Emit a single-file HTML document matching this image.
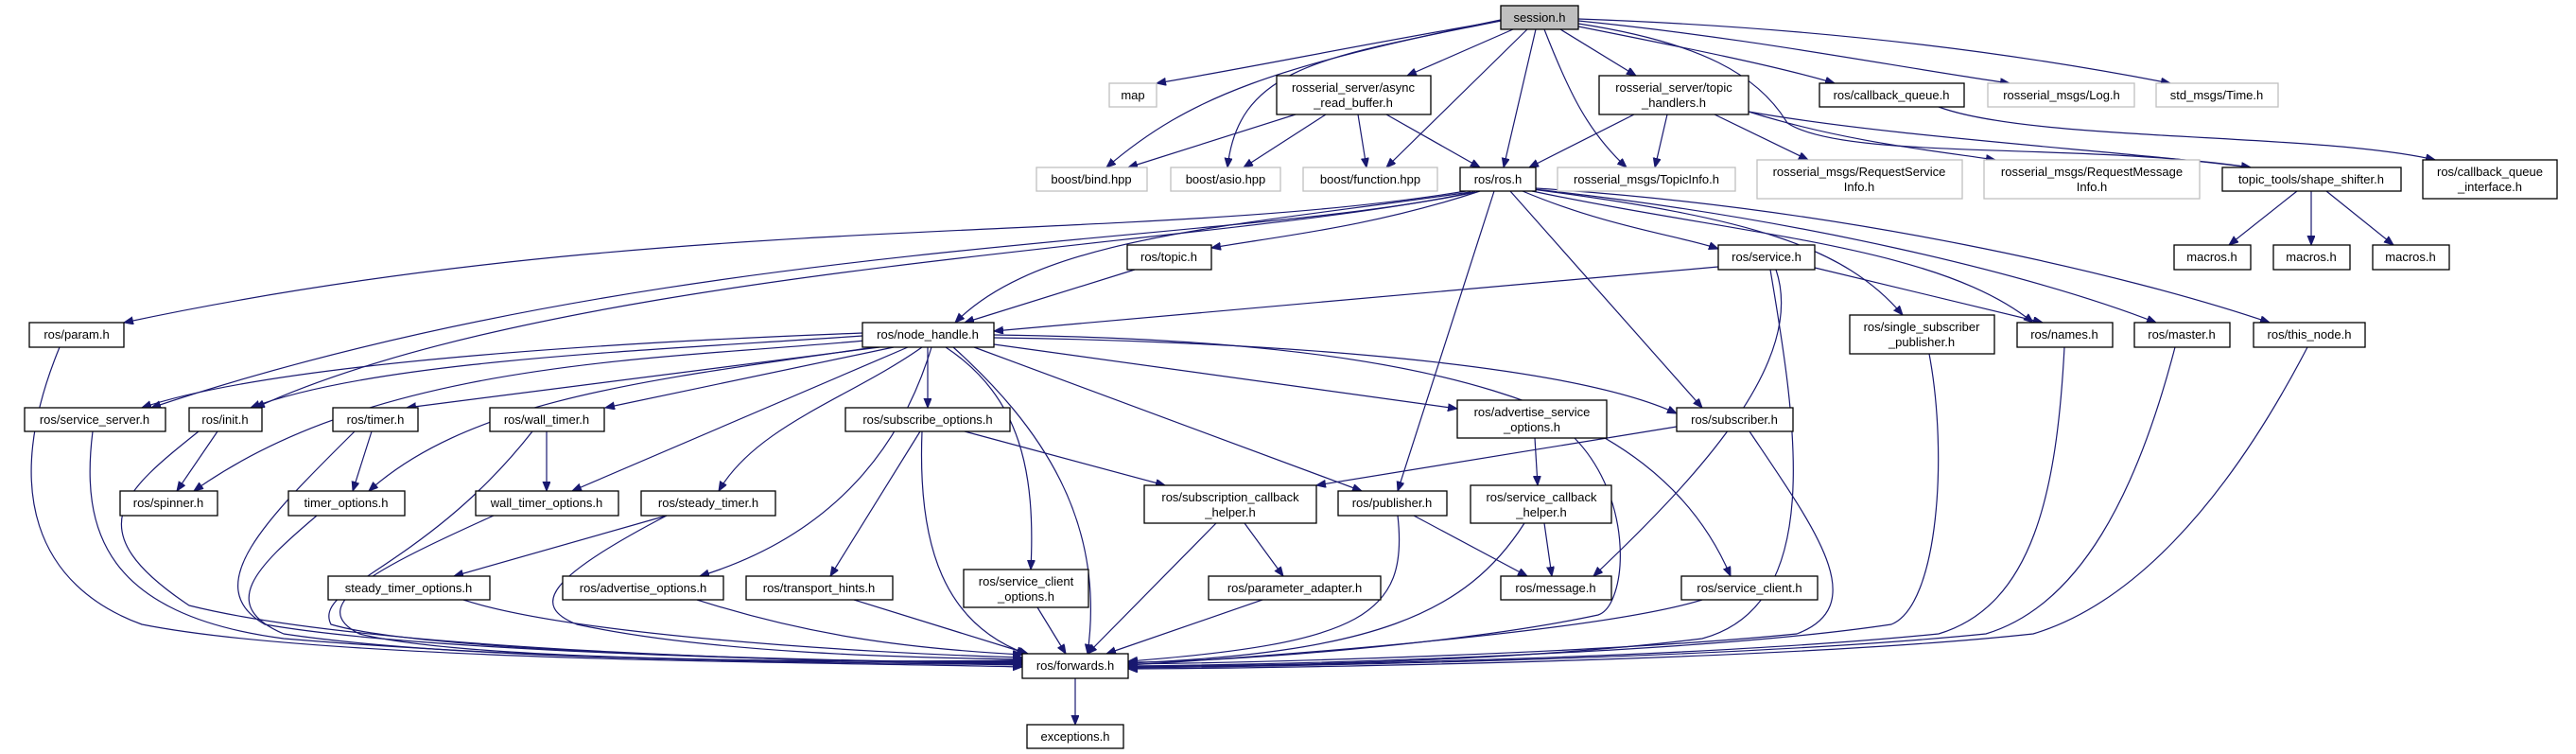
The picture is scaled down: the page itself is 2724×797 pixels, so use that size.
<!DOCTYPE html>
<html><head><meta charset="utf-8"><style>
html,body{margin:0;padding:0;background:#fff;}
svg{display:block;}
text{font-family:"Liberation Sans",sans-serif;font-size:13px;fill:#000;text-anchor:middle;}
.n{fill:#fff;stroke:#000;stroke-width:1.3;}
.g{fill:#fff;stroke:#bfbfbf;stroke-width:1.3;}
.e{fill:none;stroke:#191970;stroke-width:1.2;marker-end:url(#a);}
</style></head><body>
<svg width="2724" height="797" viewBox="0 0 2724 797" xmlns="http://www.w3.org/2000/svg">
<defs><marker id="a" markerUnits="userSpaceOnUse" markerWidth="11" markerHeight="9" refX="10" refY="4" orient="auto"><path d="M0,0 L10,4 L0,8 z" fill="#191970" stroke="#191970"/></marker></defs>
<g>
<path class="e" d="M1587,22 C1450,45 1330,70 1223,88"/>
<path class="e" d="M1587,21 C1350,70 1260,100 1170,177"/>
<path class="e" d="M1587,22 C1400,60 1310,70 1298,177"/>
<path class="e" d="M1600,31 L1488,80"/>
<path class="e" d="M1615,31 L1466,177"/>
<path class="e" d="M1624,31 L1590,177"/>
<path class="e" d="M1633,31 C1660,100 1680,140 1720,177"/>
<path class="e" d="M1650,31 L1730,80"/>
<path class="e" d="M1669,28 C1780,50 1880,70 1940,88"/>
<path class="e" d="M1669,22 C1850,40 2000,70 2125,88"/>
<path class="e" d="M1669,20 C1950,30 2150,60 2295,88"/>
<path class="e" d="M1669,25 C1800,45 1860,80 1890,130 C1950,170 2200,150 2380,177"/>
<path class="e" d="M1370,121 L1193,177"/>
<path class="e" d="M1402,121 L1315,177"/>
<path class="e" d="M1436,121 L1445,177"/>
<path class="e" d="M1466,121 L1565,177"/>
<path class="e" d="M1728,121 L1617,177"/>
<path class="e" d="M1763,121 L1750,177"/>
<path class="e" d="M1813,121 L1912,169"/>
<path class="e" d="M1849,118 C1950,150 2050,160 2110,169"/>
<path class="e" d="M1849,118 C2000,145 2250,160 2380,177"/>
<path class="e" d="M2050,113 C2150,150 2450,140 2575,169"/>
<path class="e" d="M2429,202 L2357,259"/>
<path class="e" d="M2444,202 L2444,259"/>
<path class="e" d="M2460,202 L2531,259"/>
<path class="e" d="M1550,202 C1200,260 700,220 131,341"/>
<path class="e" d="M1560,203 C1300,260 700,250 160,431"/>
<path class="e" d="M1558,203 C1300,260 600,280 270,431"/>
<path class="e" d="M1555,203 C1300,240 1100,250 1010,341"/>
<path class="e" d="M1565,202 C1450,240 1350,250 1281,262"/>
<path class="e" d="M1580,202 L1478,519"/>
<path class="e" d="M1597,202 L1800,431"/>
<path class="e" d="M1610,202 C1700,240 1780,250 1817,263"/>
<path class="e" d="M1620,202 C1850,250 2050,260 2150,341"/>
<path class="e" d="M1620,200 C1850,230 1950,260 2012,333"/>
<path class="e" d="M1622,200 C1900,230 2150,290 2280,341"/>
<path class="e" d="M1624,199 C1950,220 2250,290 2400,341"/>
<path class="e" d="M1200,285 L1020,341"/>
<path class="e" d="M1817,282 L1051,350"/>
<path class="e" d="M1919,283 L2160,341"/>
<path class="e" d="M1878,285 C1910,380 1800,500 1685,609"/>
<path class="e" d="M1872,285 C1900,450 1930,640 1800,675 C1600,700 1350,703 1193,705"/>
<path class="e" d="M912,352 C700,360 300,380 150,431"/>
<path class="e" d="M912,355 C700,370 400,380 265,431"/>
<path class="e" d="M915,360 C700,380 400,380 205,519"/>
<path class="e" d="M930,367 L430,431"/>
<path class="e" d="M925,367 C700,400 500,420 390,519"/>
<path class="e" d="M945,367 L640,431"/>
<path class="e" d="M960,367 L605,519"/>
<path class="e" d="M975,367 C900,420 800,450 760,519"/>
<path class="e" d="M985,367 C960,450 900,560 740,609"/>
<path class="e" d="M981,367 L981,431"/>
<path class="e" d="M1000,367 C1080,420 1095,500 1090,602"/>
<path class="e" d="M1008,367 C1100,450 1170,550 1150,691"/>
<path class="e" d="M1030,367 L1440,519"/>
<path class="e" d="M1051,364 L1541,432"/>
<path class="e" d="M1051,357 C1300,360 1650,380 1773,437"/>
<path class="e" d="M1051,354 C1500,360 1750,420 1830,609"/>
<path class="e" d="M63,367 C0,520 40,620 150,660 C350,700 900,700 1081,705"/>
<path class="e" d="M98,456 C85,560 110,650 300,675 C600,700 900,700 1081,703"/>
<path class="e" d="M230,456 L187,519"/>
<path class="e" d="M210,456 C130,520 80,560 200,640 C400,690 900,700 1081,702"/>
<path class="e" d="M393,456 L373,519"/>
<path class="e" d="M375,456 C280,550 210,620 280,660 C450,690 900,700 1081,701"/>
<path class="e" d="M578,456 L578,519"/>
<path class="e" d="M563,456 C450,600 330,620 350,660 C450,690 900,700 1081,700"/>
<path class="e" d="M335,545 C270,600 230,640 300,670 C500,700 900,700 1081,699"/>
<path class="e" d="M522,545 C400,600 320,640 380,670 C500,700 900,700 1081,698"/>
<path class="e" d="M705,545 L480,609"/>
<path class="e" d="M705,545 C580,610 560,640 610,660 C750,690 950,695 1081,697"/>
<path class="e" d="M490,634 C600,670 900,690 1081,695"/>
<path class="e" d="M737,634 C850,670 950,685 1081,692"/>
<path class="e" d="M903,634 L1087,691"/>
<path class="e" d="M973,456 L878,609"/>
<path class="e" d="M975,456 C970,580 1000,660 1085,691"/>
<path class="e" d="M1020,456 L1232,513"/>
<path class="e" d="M1097,642 L1127,691"/>
<path class="e" d="M1316,553 L1357,609"/>
<path class="e" d="M1286,553 L1150,691"/>
<path class="e" d="M1335,634 L1170,691"/>
<path class="e" d="M1495,545 L1615,609"/>
<path class="e" d="M1478,545 C1490,650 1440,680 1193,699"/>
<path class="e" d="M1623,463 L1626,513"/>
<path class="e" d="M1665,463 C1730,530 1720,640 1690,650 C1550,680 1300,700 1193,700"/>
<path class="e" d="M1633,553 L1641,609"/>
<path class="e" d="M1612,553 C1550,650 1450,690 1193,701"/>
<path class="e" d="M1773,451 L1392,513"/>
<path class="e" d="M1850,456 C1920,560 1980,640 1900,670 C1700,690 1350,700 1193,702"/>
<path class="e" d="M1800,634 C1700,665 1400,690 1193,703"/>
<path class="e" d="M2040,374 C2060,480 2050,640 2000,660 C1800,690 1400,702 1193,704"/>
<path class="e" d="M2183,367 C2175,520 2150,640 2050,670 C1800,695 1400,703 1193,705"/>
<path class="e" d="M2300,367 C2260,520 2200,640 2100,670 C1850,695 1400,704 1193,706"/>
<path class="e" d="M2440,367 C2350,540 2250,640 2150,670 C1900,697 1400,706 1193,707"/>
<path class="e" d="M1137,717 L1137,766"/>
</g>
<g>
<rect x="1587" y="6" width="82" height="25" style="fill:#bfbfbf;stroke:#000;stroke-width:1.3"/><text x="1628" y="23">session.h</text>
<rect class="g" x="1173" y="88" width="50" height="25"/><text x="1198" y="105">map</text>
<rect class="n" x="1350" y="80" width="163" height="41"/><text x="1431" y="97">rosserial_server/async</text><text x="1431" y="113">_read_buffer.h</text>
<rect class="n" x="1691" y="80" width="158" height="41"/><text x="1770" y="97">rosserial_server/topic</text><text x="1770" y="113">_handlers.h</text>
<rect class="n" x="1924" y="88" width="153" height="25"/><text x="2000" y="105">ros/callback_queue.h</text>
<rect class="g" x="2102" y="88" width="155" height="25"/><text x="2180" y="105">rosserial_msgs/Log.h</text>
<rect class="g" x="2280" y="88" width="129" height="25"/><text x="2344" y="105">std_msgs/Time.h</text>
<rect class="g" x="1096" y="177" width="117" height="25"/><text x="1154" y="194">boost/bind.hpp</text>
<rect class="g" x="1238" y="177" width="116" height="25"/><text x="1296" y="194">boost/asio.hpp</text>
<rect class="g" x="1378" y="177" width="142" height="25"/><text x="1449" y="194">boost/function.hpp</text>
<rect class="n" x="1544" y="177" width="80" height="25"/><text x="1584" y="194">ros/ros.h</text>
<rect class="g" x="1647" y="177" width="188" height="25"/><text x="1741" y="194">rosserial_msgs/TopicInfo.h</text>
<rect class="g" x="1858" y="169" width="217" height="41"/><text x="1966" y="186">rosserial_msgs/RequestService</text><text x="1966" y="202">Info.h</text>
<rect class="g" x="2098" y="169" width="228" height="41"/><text x="2212" y="186">rosserial_msgs/RequestMessage</text><text x="2212" y="202">Info.h</text>
<rect class="n" x="2350" y="177" width="189" height="25"/><text x="2444" y="194">topic_tools/shape_shifter.h</text>
<rect class="n" x="2562" y="169" width="142" height="41"/><text x="2633" y="186">ros/callback_queue</text><text x="2633" y="202">_interface.h</text>
<rect class="n" x="2299" y="259" width="81" height="26"/><text x="2339" y="276">macros.h</text>
<rect class="n" x="2404" y="259" width="81" height="26"/><text x="2444" y="276">macros.h</text>
<rect class="n" x="2509" y="259" width="81" height="26"/><text x="2549" y="276">macros.h</text>
<rect class="n" x="1192" y="259" width="89" height="26"/><text x="1236" y="276">ros/topic.h</text>
<rect class="n" x="1817" y="259" width="102" height="26"/><text x="1868" y="276">ros/service.h</text>
<rect class="n" x="31" y="341" width="100" height="26"/><text x="81" y="358">ros/param.h</text>
<rect class="n" x="912" y="341" width="139" height="26"/><text x="981" y="358">ros/node_handle.h</text>
<rect class="n" x="1956" y="333" width="153" height="41"/><text x="2032" y="350">ros/single_subscriber</text><text x="2032" y="366">_publisher.h</text>
<rect class="n" x="2133" y="341" width="101" height="26"/><text x="2183" y="358">ros/names.h</text>
<rect class="n" x="2257" y="341" width="101" height="26"/><text x="2307" y="358">ros/master.h</text>
<rect class="n" x="2383" y="341" width="118" height="26"/><text x="2442" y="358">ros/this_node.h</text>
<rect class="n" x="26" y="431" width="149" height="25"/><text x="100" y="448">ros/service_server.h</text>
<rect class="n" x="200" y="431" width="77" height="25"/><text x="238" y="448">ros/init.h</text>
<rect class="n" x="352" y="431" width="90" height="25"/><text x="397" y="448">ros/timer.h</text>
<rect class="n" x="518" y="431" width="121" height="25"/><text x="578" y="448">ros/wall_timer.h</text>
<rect class="n" x="894" y="431" width="174" height="25"/><text x="981" y="448">ros/subscribe_options.h</text>
<rect class="n" x="1541" y="423" width="158" height="40"/><text x="1620" y="440">ros/advertise_service</text><text x="1620" y="456">_options.h</text>
<rect class="n" x="1773" y="431" width="123" height="25"/><text x="1834" y="448">ros/subscriber.h</text>
<rect class="n" x="127" y="519" width="103" height="26"/><text x="178" y="536">ros/spinner.h</text>
<rect class="n" x="305" y="519" width="123" height="26"/><text x="366" y="536">timer_options.h</text>
<rect class="n" x="503" y="519" width="151" height="26"/><text x="578" y="536">wall_timer_options.h</text>
<rect class="n" x="678" y="519" width="142" height="26"/><text x="749" y="536">ros/steady_timer.h</text>
<rect class="n" x="1210" y="513" width="182" height="40"/><text x="1301" y="530">ros/subscription_callback</text><text x="1301" y="546">_helper.h</text>
<rect class="n" x="1415" y="519" width="115" height="26"/><text x="1472" y="536">ros/publisher.h</text>
<rect class="n" x="1555" y="513" width="149" height="40"/><text x="1630" y="530">ros/service_callback</text><text x="1630" y="546">_helper.h</text>
<rect class="n" x="347" y="609" width="171" height="25"/><text x="432" y="626">steady_timer_options.h</text>
<rect class="n" x="595" y="609" width="170" height="25"/><text x="680" y="626">ros/advertise_options.h</text>
<rect class="n" x="789" y="609" width="155" height="25"/><text x="866" y="626">ros/transport_hints.h</text>
<rect class="n" x="1019" y="602" width="132" height="40"/><text x="1085" y="619">ros/service_client</text><text x="1085" y="635">_options.h</text>
<rect class="n" x="1278" y="609" width="182" height="25"/><text x="1369" y="626">ros/parameter_adapter.h</text>
<rect class="n" x="1587" y="609" width="117" height="25"/><text x="1645" y="626">ros/message.h</text>
<rect class="n" x="1778" y="609" width="144" height="25"/><text x="1850" y="626">ros/service_client.h</text>
<rect class="n" x="1081" y="691" width="112" height="26"/><text x="1137" y="708">ros/forwards.h</text>
<rect class="n" x="1086" y="766" width="102" height="25"/><text x="1137" y="783">exceptions.h</text>
</g>
</svg>
</body></html>
